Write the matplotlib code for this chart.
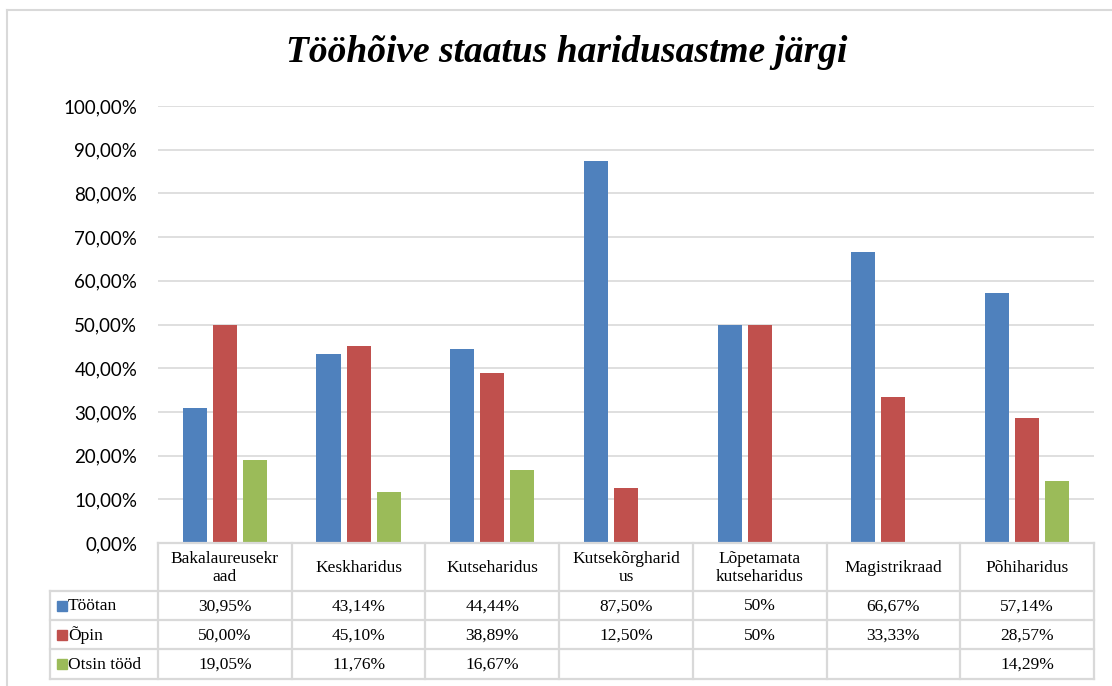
import matplotlib
matplotlib.use("Agg")
import matplotlib.pyplot as plt
import numpy as np

# ---------------- data ----------------
categories = ["Bakalaureusekr\naad", "Keskharidus", "Kutseharidus", "Kutsekõrgharid\nus",
              "Lõpetamata\nkutseharidus", "Magistrikraad", "Põhiharidus"]
series_names = ["Töötan", "Õpin", "Otsin tööd"]
tootan = [0.3095, 0.4314, 0.4444, 0.8750, 0.50, 0.6667, 0.5714]
opin = [0.5000, 0.4510, 0.3889, 0.1250, 0.50, 0.3333, 0.2857]
otsin = [0.1905, 0.1176, 0.1667, np.nan, np.nan, np.nan, 0.1429]
tootan_lbl = ["30,95%", "43,14%", "44,44%", "87,50%", "50%", "66,67%", "57,14%"]
opin_lbl = ["50,00%", "45,10%", "38,89%", "12,50%", "50%", "33,33%", "28,57%"]
otsin_lbl = ["19,05%", "11,76%", "16,67%", "", "", "", "14,29%"]
yticks = [0.0, 0.1, 0.2, 0.3, 0.4, 0.5, 0.6, 0.7, 0.8, 0.9, 1.0]
title = "Tööhõive staatus haridusastme järgi"

colors = ["#4F81BD", "#C0504D", "#9BBB59"]
grid_c = "#D9D9D9"

W, H = 1112, 686
fig = plt.figure(figsize=(W / 100, H / 100), dpi=100)

# plot area in pixels
L, R, T, B = 158, 1094, 106, 543
ax = fig.add_axes([L / W, 1 - B / H, (R - L) / W, (B - T) / H])
n = len(categories)
x = np.arange(n)
bw = 0.18
gap = 0.045
series = [tootan, opin, otsin]
for i, (vals, c) in enumerate(zip(series, colors)):
    ax.bar(x + (i - 1) * (bw + gap), vals, width=bw, color=c, zorder=3)
ax.set_xlim(-0.5, n - 0.5)
ax.set_ylim(0, 1.0)
ax.set_yticks(yticks)
ax.set_yticklabels([f"{v*100:.2f}%".replace(".", ",") for v in yticks],
                   fontfamily="Lato", fontsize=13.5)
ax.tick_params(axis="y", length=0, pad=15)
ax.set_xticks([])
ax.grid(axis="y", color=grid_c, linewidth=1.2, zorder=0)
for s in ax.spines.values():
    s.set_visible(False)

# ---------------- table (overlay in pixel coordinates) ----------------
ov = fig.add_axes([0, 0, 1, 1])
ov.set_xlim(0, W)
ov.set_ylim(H, 0)
ov.axis("off")
ov.patch.set_alpha(0)

colw = (R - L) / n
row_y = [543, 591, 620, 649, 679]
lab_x0 = 50
lw = 1.6
# horizontal lines
ov.plot([L, R], [row_y[0], row_y[0]], color=grid_c, lw=lw)
for yy in row_y[1:]:
    ov.plot([lab_x0, R], [yy, yy], color=grid_c, lw=lw)
# vertical lines
for k in range(n + 1):
    ov.plot([L + k * colw] * 2, [row_y[0], row_y[-1]], color=grid_c, lw=lw)
ov.plot([lab_x0, lab_x0], [row_y[1], row_y[-1]], color=grid_c, lw=lw)

serif = "Liberation Serif"
fs = 12.5
for k, cat in enumerate(categories):
    cx = L + (k + 0.5) * colw
    ov.text(cx, (row_y[0] + row_y[1]) / 2 + 1, cat, ha="center", va="center",
            fontfamily=serif, fontsize=fs, linespacing=1.2)
    for r, lbls in enumerate([tootan_lbl, opin_lbl, otsin_lbl]):
        ov.text(cx, (row_y[r + 1] + row_y[r + 2]) / 2 + 1, lbls[k], ha="center",
                va="center", fontfamily=serif, fontsize=fs)
for r, (name, c) in enumerate(zip(series_names, colors)):
    yc = (row_y[r + 1] + row_y[r + 2]) / 2
    ov.add_patch(plt.Rectangle((57, yc - 5), 10, 10, color=c))
    ov.text(68, yc + 1, name, ha="left", va="center", fontfamily=serif, fontsize=fs)

# outer border
ov.plot([7, 7], [10, H], color=grid_c, lw=1.5)
ov.plot([7, W], [10, 10], color=grid_c, lw=1.5)

# title
fig.text(567 / W, 1 - 52 / H, title, ha="center", va="center", fontfamily=serif,
         fontsize=27, fontweight="bold", fontstyle="italic")

fig.savefig("out.png", dpi=100)
